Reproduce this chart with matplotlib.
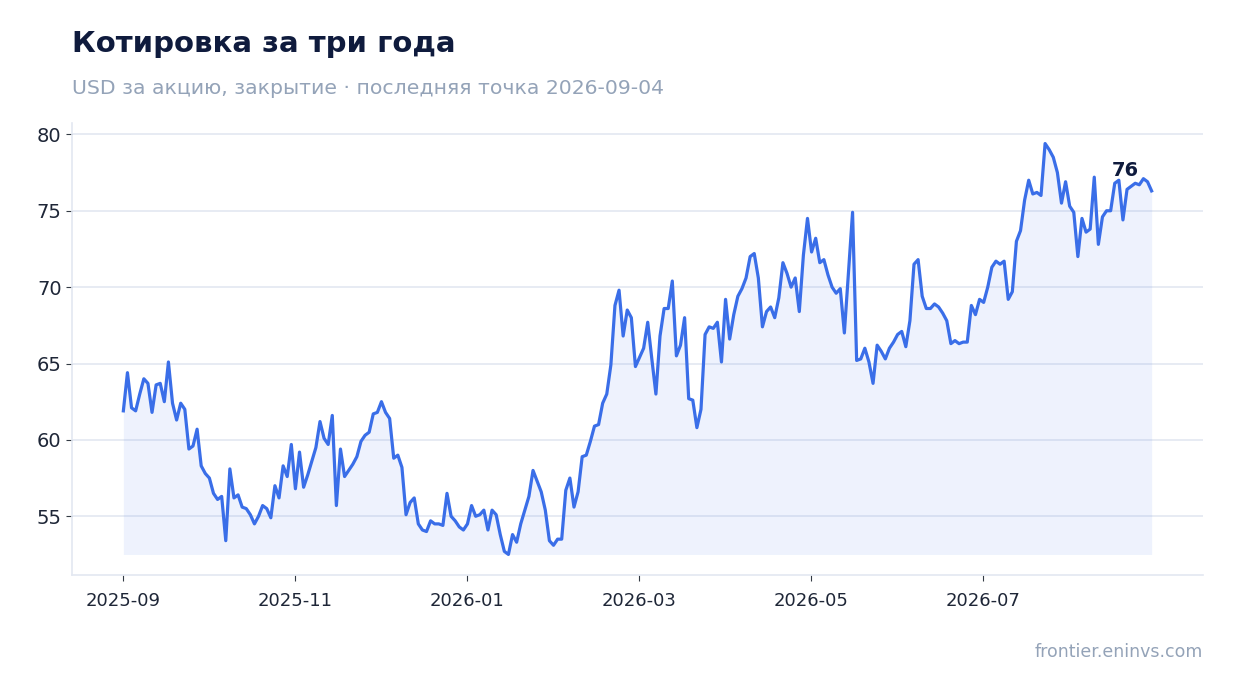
import numpy as np
import matplotlib
matplotlib.use("Agg")
import matplotlib.pyplot as plt

# closing prices, one per trading session
close = [
    61.9, 64.4, 62.1, 61.9, 63.0, 64.0, 63.7, 61.8, 63.6, 63.7, 62.5, 65.1,
    62.4, 61.3, 62.4, 62.0, 59.4, 59.6, 60.7, 58.3, 57.8, 57.5, 56.5, 56.1,
    56.3, 53.4, 58.1, 56.2, 56.4, 55.6, 55.5, 55.1, 54.5, 55.0, 55.7,
    55.5, 54.9, 57.0, 56.2, 58.3, 57.6, 59.7, 56.8, 59.2, 56.9, 57.7, 58.6,
    59.5, 61.2, 60.1, 59.7, 61.6, 55.7, 59.4, 57.6, 58.0, 58.4, 58.9, 59.9,
    60.3, 60.5, 61.7, 61.8, 62.5, 61.8, 61.4, 58.8, 59.0, 58.2, 55.1,
    55.9, 56.2, 54.5, 54.1, 54.0, 54.7, 54.5, 54.5, 54.4, 56.5, 55.0, 54.7,
    54.3, 54.1, 54.5, 55.7, 55.0, 55.1, 55.4, 54.1, 55.4, 55.1, 53.8, 52.7,
    52.5, 53.8, 53.3, 54.5, 55.4, 56.3, 58.0, 57.3, 56.6, 55.4, 53.4, 53.1,
    53.5, 53.5, 56.7, 57.5, 55.6, 56.6, 58.9, 59.0, 59.9, 60.9, 61.0, 62.4,
    63.0, 64.9, 68.8, 69.8, 66.8, 68.5, 68.0, 64.8, 65.4, 66.0, 67.7, 65.3,
    63.0, 66.8, 68.6, 68.6, 70.4, 65.5, 66.2, 68.0, 62.7, 62.6, 60.8, 62.0,
    66.9, 67.4, 67.3, 67.7, 65.1, 69.2, 66.6, 68.2, 69.4, 69.9,
    70.6, 72.0, 72.2, 70.6, 67.4, 68.4, 68.7, 68.0, 69.3, 71.6,
    70.9, 70.0, 70.6, 68.4, 72.1, 74.5, 72.3, 73.2, 71.6, 71.8,
    70.8, 70.0, 69.6, 69.9, 67.0, 70.9, 74.9, 65.2, 65.3, 66.0,
    65.1, 63.7, 66.2, 65.8, 65.3, 66.0, 66.4, 66.9, 67.1, 66.1,
    67.8, 71.5, 71.8, 69.4, 68.6, 68.6, 68.9, 68.7, 68.3, 67.8,
    66.3, 66.5, 66.3, 66.4, 66.4, 68.8, 68.2, 69.2, 69.0, 70.0,
    71.3, 71.7, 71.5, 71.7, 69.2, 69.7, 73.0, 73.7, 75.7, 77.0,
    76.1, 76.2, 76.0, 79.4, 79.0, 78.5, 77.5, 75.5, 76.9, 75.3,
    74.9, 72.0, 74.5, 73.6, 73.8, 77.2, 72.8, 74.6, 75.0, 75.0,
    76.8, 77.0, 74.4, 76.4, 76.6, 76.8, 76.7, 77.1, 76.9, 76.3,
]
tick_labels = ["2025-09", "2025-11", "2026-01", "2026-03", "2026-05", "2026-07"]
last_date = "2026-09-04"

y = np.array(close)
x = np.arange(len(y))

navy = "#0f1b3d"
blue = "#3a6ee8"
grey = "#94a3b8"
light = "#e3e8f1"

fig = plt.figure(figsize=(12.34, 6.93), dpi=100)
ax = fig.add_axes([0.0583, 0.1703, 0.9166, 0.6522])

ax.fill_between(x, y, y.min(), color=blue, alpha=0.085, linewidth=0)
ax.plot(x, y, color=blue, linewidth=2.3)

ax.grid(axis="y", color=light, linewidth=1.2)
ax.set_axisbelow(True)
for s in ["top", "right"]:
    ax.spines[s].set_visible(False)
for s in ["left", "bottom"]:
    ax.spines[s].set_color(light)
    ax.spines[s].set_linewidth(1.2)

ax.set_yticks([55, 60, 65, 70, 75, 80])
ax.tick_params(axis="y", labelsize=14, colors="#333a44", labelcolor="#1e2637", length=4)
ax.tick_params(axis="x", labelsize=13, colors="#333a44", labelcolor="#1e2637", length=4, pad=8)
tick_pos = np.arange(len(tick_labels)) * (len(y) - 1) * 0.1673
ax.set_xticks(tick_pos)
ax.set_xticklabels(tick_labels)

ax.annotate(f"{y[-1]:.0f}", (x[-1], y[-1]), xytext=(-19, 15), textcoords="offset points",
            ha="center", va="center", fontsize=14, fontweight="bold", color=navy)

fig.text(0.0583, 1 - 44 / 693, "Котировка за три года", fontsize=21,
         fontweight="bold", color=navy, va="center", ha="left")
fig.text(0.0583, 1 - 88 / 693, f"USD за акцию, закрытие · последняя точка {last_date}",
         fontsize=14.7, color=grey, va="center", ha="left")
fig.text(1203 / 1234, 1 - 652 / 693, "frontier.eninvs.com", fontsize=12.5,
         color=grey, va="center", ha="right")

fig.savefig("out.png", dpi=100)
